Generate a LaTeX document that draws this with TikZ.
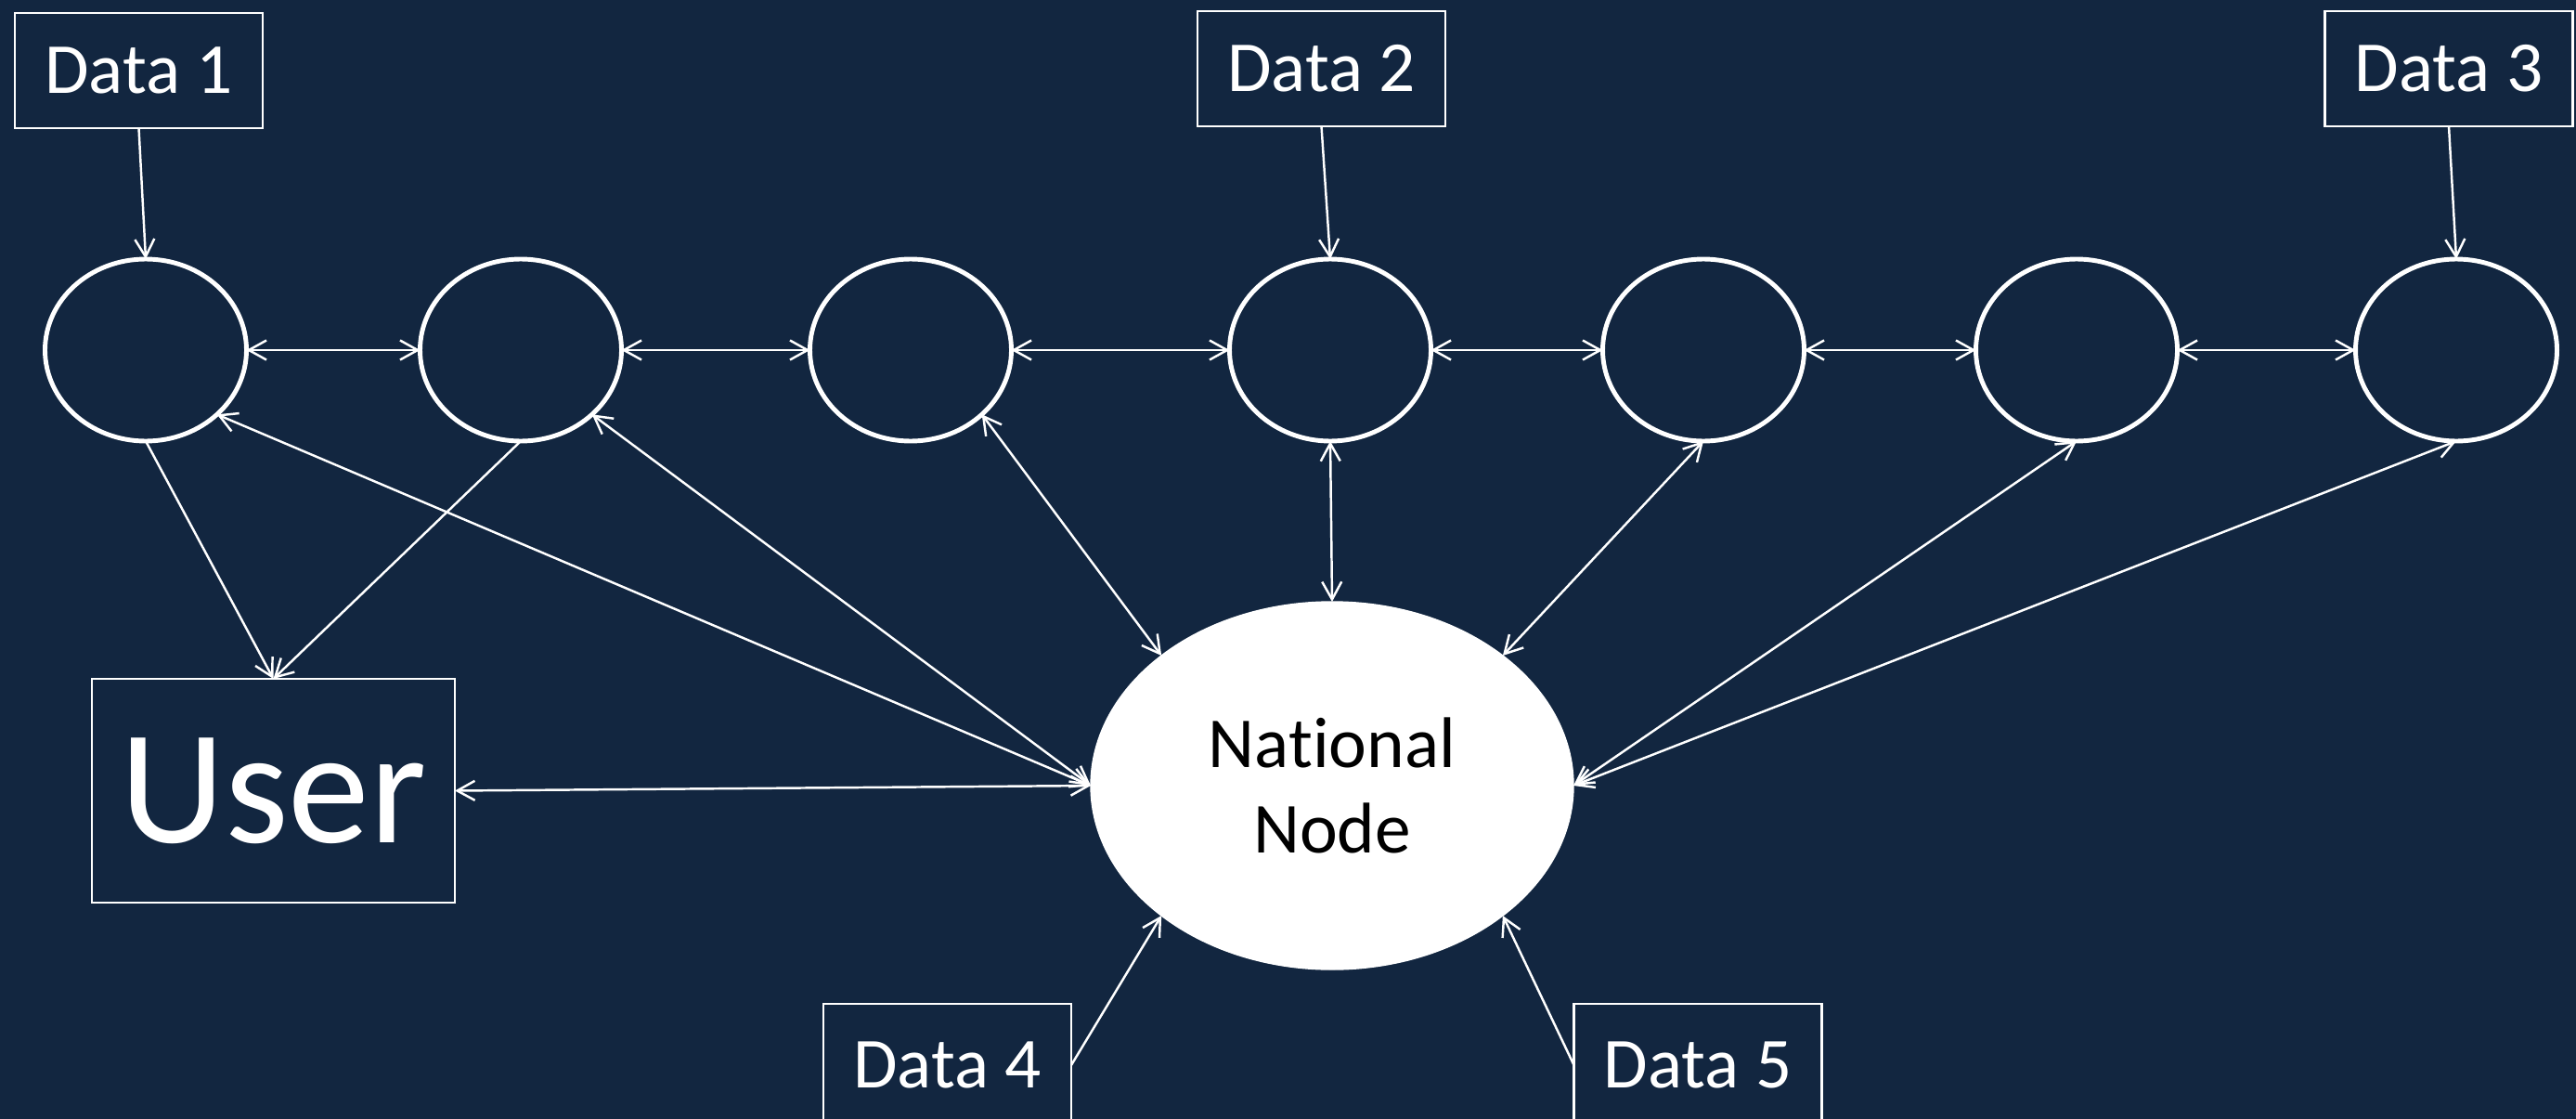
\documentclass[tikz,border=0pt]{standalone}
\usepackage{fontspec}
\setmainfont{Carlito}[Ligatures=NoCommon]
\usetikzlibrary{arrows.meta,shapes.geometric}
\definecolor{bg}{RGB}{18,38,64}
\begin{document}
\begin{tikzpicture}[
  databox/.style={draw=white, line width=0.6pt, minimum width=2.67cm, minimum height=1.24cm, inner sep=0pt, outer sep=0pt, text=white, font=\fontsize{22}{26}\selectfont},
  ring/.style={ellipse, draw=white, line width=1.4pt, minimum width=2.17cm, minimum height=1.96cm, inner sep=0pt, outer sep=0pt},
  tipb/.tip={Straight Barb[length=1.9mm,width=2.1mm]},
  conn/.style={draw=white, line width=0.7pt, -tipb},
  dconn/.style={draw=white, line width=0.7pt, tipb-tipb},
]
\useasboundingbox (0,0) rectangle (27.75,-12.04);
\fill[bg] (-0.2,0.2) rectangle (27.95,-12.24);

% data boxes
\node[databox] (d1) at (1.495,-0.76) {Data 1};
\node[databox] (d2) at (14.235,-0.74) {Data 2};
\node[databox] (d3) at (26.38,-0.74) {Data 3};
\node[databox, minimum height=1.32cm] (d4) at (10.205,-11.47) {Data 4};
\node[databox, minimum height=1.32cm] (d5) at (18.29,-11.47) {Data 5};

% ring of nodes
\node[ring] (e1) at (1.57,-3.77) {};
\node[ring] (e2) at (5.61,-3.77) {};
\node[ring] (e3) at (9.81,-3.77) {};
\node[ring] (e4) at (14.33,-3.77) {};
\node[ring] (e5) at (18.35,-3.77) {};
\node[ring] (e6) at (22.37,-3.77) {};
\node[ring] (e7) at (26.46,-3.77) {};

% national node
\node[ellipse, fill=white, draw=white, minimum width=5.2cm, minimum height=3.96cm, inner sep=0pt, outer sep=0pt, align=center, text=black, font=\fontsize{22}{26}\selectfont] (nat) at (14.35,-8.46) {National\\Node};

% user
\node[draw=white, line width=0.6pt, minimum width=3.91cm, minimum height=2.41cm, inner sep=0pt, outer sep=0pt, text=white, font=\fontsize{50}{60}\selectfont] (user) at (2.945,-8.515) {User};

% data inputs
\draw[conn] (d1.south) -- (e1.north);
\draw[conn] (d2.south) -- (e4.north);
\draw[conn] (d3.south) -- (e7.north);
\draw[conn] (d4.east) -- (nat.south west);
\draw[conn] (d5.west) -- (nat.south east);

% chain
\draw[dconn] (e1.east) -- (e2.west);
\draw[dconn] (e2.east) -- (e3.west);
\draw[dconn] (e3.east) -- (e4.west);
\draw[dconn] (e4.east) -- (e5.west);
\draw[dconn] (e5.east) -- (e6.west);
\draw[dconn] (e6.east) -- (e7.west);

% to user
\draw[conn] (e1.south) -- (user.north);
\draw[conn] (e2.south) -- (user.north);
\draw[dconn] (user.east) -- (nat.west);

% to national node
\draw[dconn] (e1.south east) -- (nat.west);
\draw[dconn] (e2.south east) -- (nat.west);
\draw[dconn] (e3.south east) -- (nat.north west);
\draw[dconn] (e4.south) -- (nat.north);
\draw[dconn] (e5.south) -- (nat.north east);
\draw[dconn] (e6.south) -- (nat.east);
\draw[dconn] (e7.south) -- (nat.east);
\end{tikzpicture}
\end{document}
